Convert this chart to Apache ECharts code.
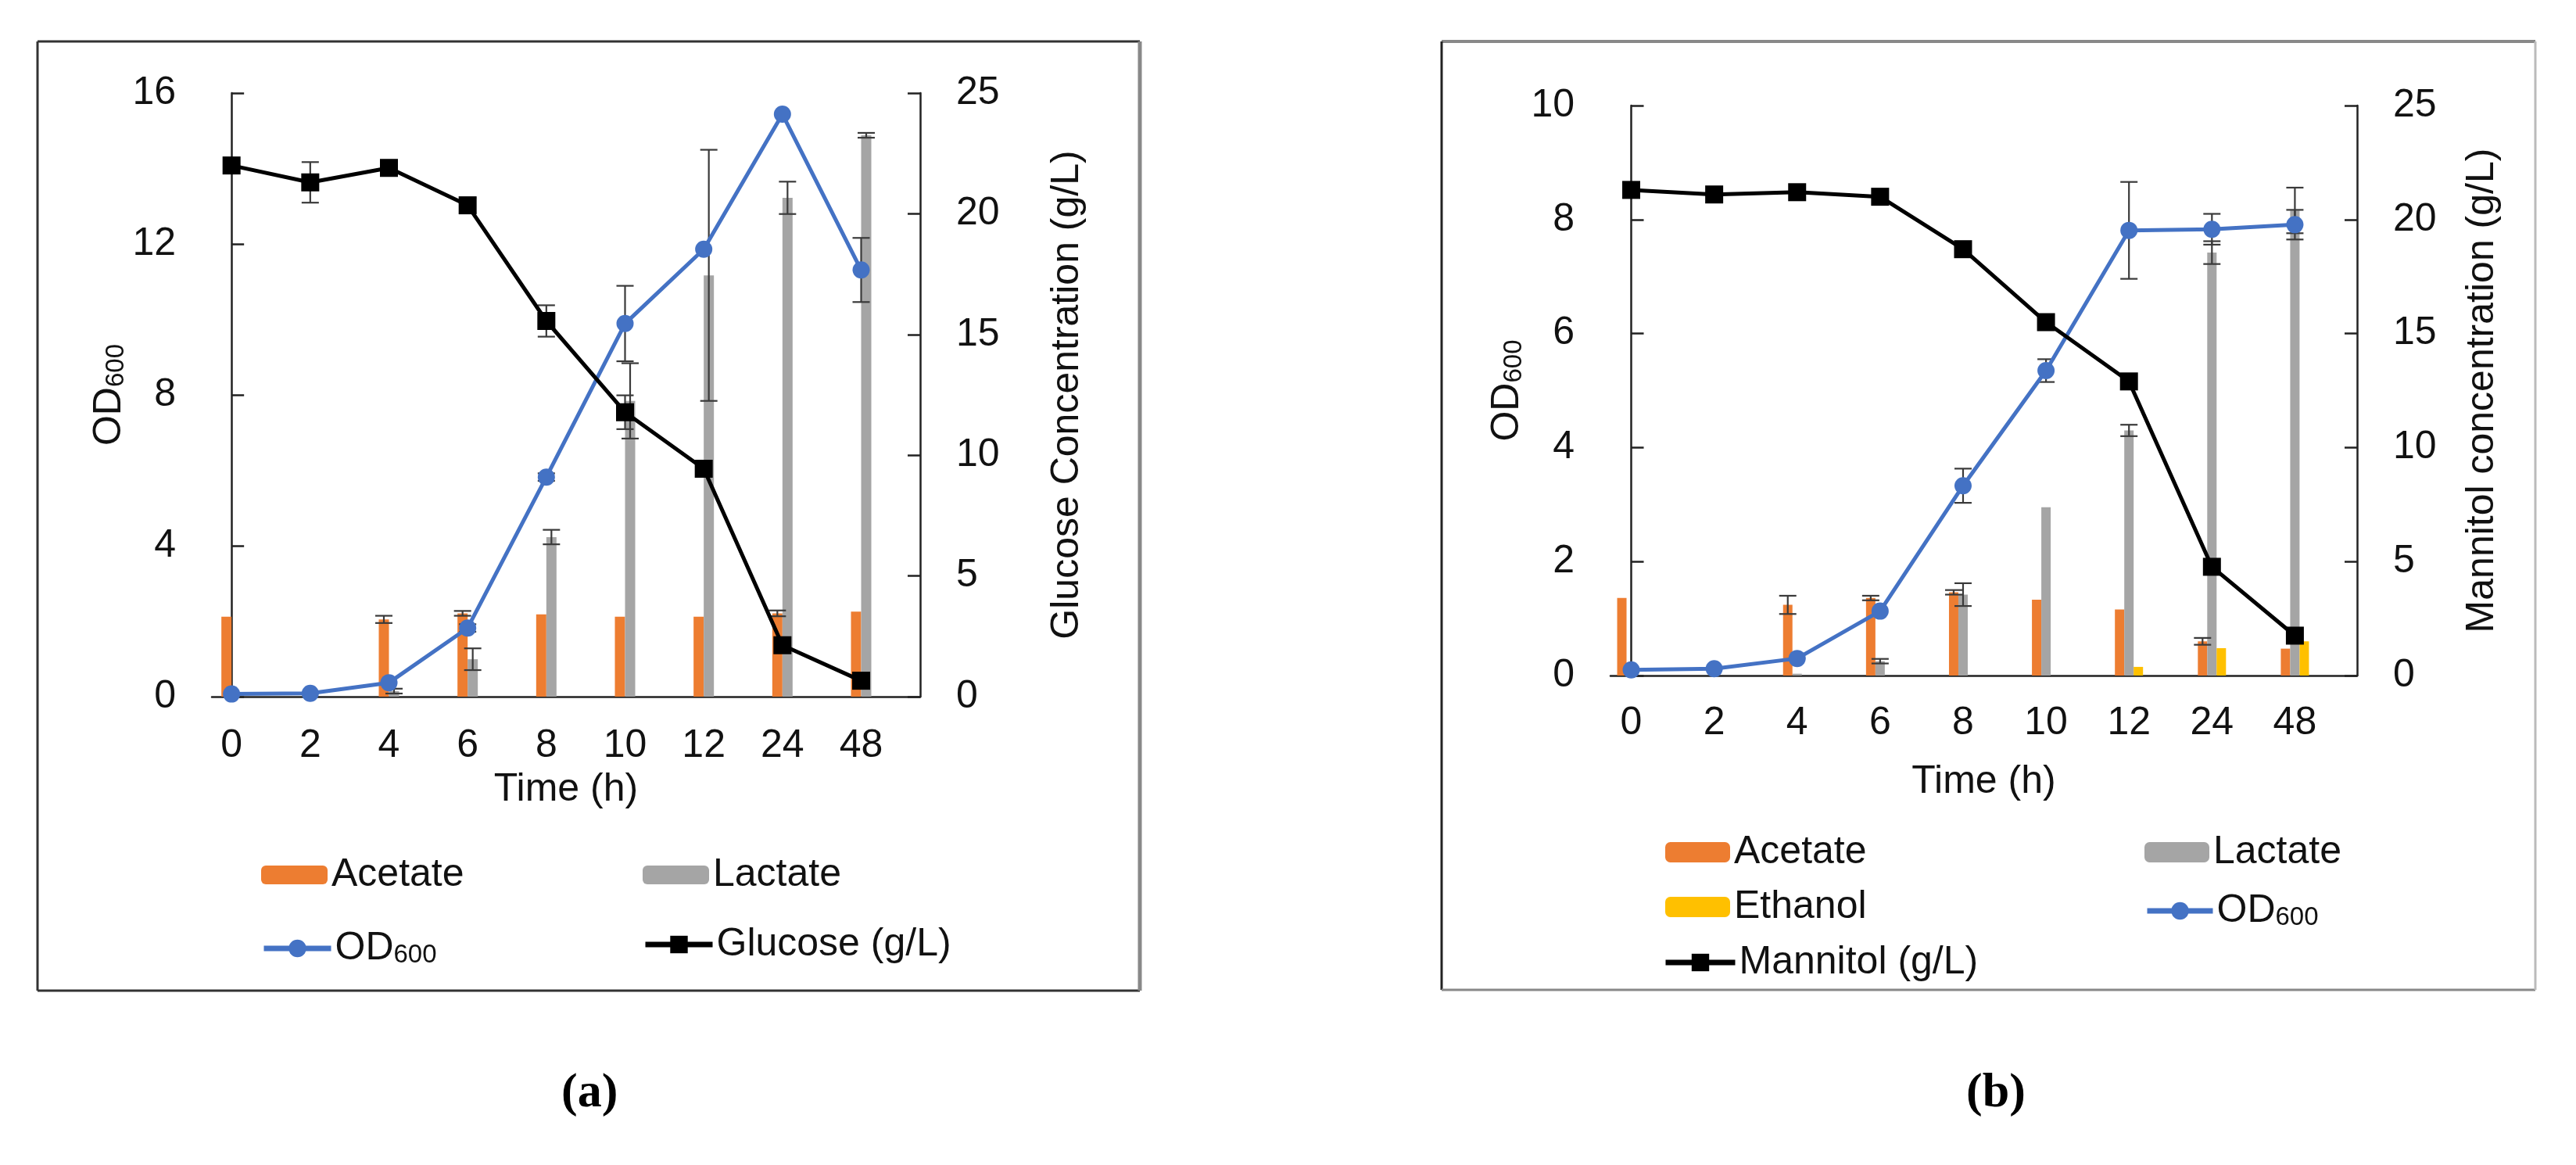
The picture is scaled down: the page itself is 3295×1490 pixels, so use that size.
<!DOCTYPE html>
<html><head><meta charset="utf-8">
<script src="https://cdn.jsdelivr.net/npm/echarts@6/dist/echarts.min.js"></script>
<style>html,body{margin:0;padding:0;background:#fff}#c{width:3295px;height:1490px}</style>
</head><body><div id="c"></div>
<script>
// ---------- data ----------
const timeLabels = ['0','2','4','6','8','10','12','24','48'];
const xIdx = timeLabels.map((_, i) => i);

// Panel (a): glucose fermentation
const aOD600      = [0.07, 0.09, 0.37, 1.82, 5.82, 9.89, 11.86, 15.44, 11.31];
const aOD600Err   = [0, 0, 0, 0.1, 0.1, 1.0, 0, 0, 0.85];
const aGlucose    = [22.0, 21.3, 21.9, 20.35, 15.56, 11.78, 9.44, 2.13, 0.66];
const aGlucoseErr = [0, 0.84, 0, 0.3, 0.65, 0.7, 0, 0, 0];
const aAcetate    = [3.31, 0, 3.2, 3.45, 3.41, 3.31, 3.31, 3.45, 3.52];
const aAcetateErr = [0, 0, 0.15, 0.1, 0, 0, 0, 0.12, 0];
const aLactate    = [0, 0, 0.23, 1.55, 6.61, 12.25, 17.45, 20.66, 23.25];
const aLactateErr = [0, 0, 0.1, 0.45, 0.3, 1.56, 5.2, 0.67, 0.1];

// Panel (b): mannitol fermentation
const bOD600       = [0.10, 0.12, 0.30, 1.13, 3.33, 5.35, 7.81, 7.83, 7.91];
const bOD600Err    = [0, 0, 0, 0, 0.3, 0.2, 0.85, 0.27, 0.26];
const bMannitol    = [21.3, 21.1, 21.2, 21.0, 18.7, 15.5, 12.9, 4.77, 1.75];
const bMannitolErr = [0, 0, 0, 0, 0, 0, 0, 0, 0];
const bAcetate     = [3.4, 0, 3.1, 3.4, 3.65, 3.33, 2.9, 1.5, 1.18];
const bAcetateErr  = [0, 0, 0.4, 0.1, 0.1, 0, 0, 0.15, 0];
const bLactate     = [0, 0, 0.08, 0.63, 3.55, 7.38, 10.75, 18.55, 20.4];
const bLactateErr  = [0, 0, 0, 0.1, 0.5, 0, 0.25, 0.5, 1.0];
const bEthanol     = [0, 0, 0, 0, 0, 0, 0.38, 1.2, 1.5];

// ---------- helpers ----------
const FONT = 'Liberation Sans, Arial, sans-serif';
const TXT = '#111';
const pts = arr => xIdx.map(i => [i, arr[i]]);
const rich = {
  m: {fontSize: 50, fontFamily: FONT, color: TXT, lineHeight: 50, verticalAlign: 'top'},
  s: {fontSize: 33, fontFamily: FONT, color: TXT, lineHeight: 33, padding: [27, 0, 0, 0], verticalAlign: 'bottom'}
};
function errSeries(xa, ya, vals, errs, dx, color) {
  return {
    type: 'custom', xAxisIndex: xa, yAxisIndex: ya, silent: true, z: 3,
    encode: {x: 0, y: 1},
    data: xIdx.filter(i => errs[i] > 0).map(i => [i, vals[i], errs[i]]),
    renderItem(params, api) {
      const x = api.value(0), v = api.value(1), e = api.value(2);
      const hi = api.coord([x, v + e]), lo = api.coord([x, Math.max(0, v - e)]);
      const px = hi[0] + dx, w = 11;
      const st = {stroke: color, lineWidth: 2.2};
      return {type: 'group', children: [
        {type: 'line', shape: {x1: px, y1: hi[1], x2: px, y2: lo[1]}, style: st},
        {type: 'line', shape: {x1: px - w, y1: hi[1], x2: px + w, y2: hi[1]}, style: st},
        {type: 'line', shape: {x1: px - w, y1: lo[1], x2: px + w, y2: lo[1]}, style: st}
      ]};
    }
  };
}
function xAxis(grid, margin, nameGap) {
  return {
    type: 'value', gridIndex: grid, min: -0.25, max: 8.75,
    axisLine: {show: true, lineStyle: {color: '#222', width: 2.5}},
    axisTick: {show: false}, splitLine: {show: false},
    axisLabel: {customValues: xIdx, formatter: v => timeLabels[Math.round(v)],
      fontSize: 50, fontFamily: FONT, color: TXT, margin: margin},
    name: 'Time (h)', nameLocation: 'middle', nameGap: nameGap,
    nameTextStyle: {fontSize: 50, fontFamily: FONT, color: TXT}
  };
}
function yAxis(grid, pos, max, interval, name, nameGap, richName) {
  return {
    type: 'value', gridIndex: grid, position: pos, min: 0, max: max, interval: interval,
    axisLine: {show: true, lineStyle: {color: '#222', width: 2.5}},
    axisTick: {show: true, inside: true, length: 16, lineStyle: {color: '#222', width: 2.5}},
    splitLine: {show: false},
    axisLabel: {fontSize: 50, fontFamily: FONT, color: TXT, margin: 46},
    name: name, nameLocation: 'middle', nameGap: nameGap, nameRotate: 90,
    nameTextStyle: richName ? {rich: rich} : {fontSize: 50, fontFamily: FONT, color: TXT}
  };
}
const C_ACE = '#ED7D31', C_LAC = '#A5A5A5', C_ETH = '#FFC000', C_OD = '#4472C4', C_SUG = '#000000';
const ERRC = '#3a3a3a';
function bar(name, xa, ya, arr, color, bw) {
  return {type: 'bar', name, xAxisIndex: xa, yAxisIndex: ya, data: pts(arr), barWidth: bw, barGap: '0%',
    itemStyle: {color}, z: 2};
}
function line(name, xa, ya, arr, color, sym, size) {
  return {type: 'line', name, xAxisIndex: xa, yAxisIndex: ya, data: pts(arr), symbol: sym, symbolSize: size,
    lineStyle: {color, width: 5}, itemStyle: {color}, z: 5};
}
// centre = vertical centre of the legend icon
function legend(name, left, centre, w, h, isLine) {
  const half = name === 'OD600' ? 30 : 25;
  const l = {data: [name], left, top: centre - half, itemWidth: w, itemHeight: h, padding: 0, selectedMode: false,
    formatter: n => n === 'OD600' ? '{m|OD}{s|600}' : n,
    textStyle: {fontSize: 50, fontFamily: FONT, color: TXT, rich: rich}};
  if (isLine) l.lineStyle = {width: 7};
  return l;
}

const option = {
  animation: false,
  backgroundColor: '#fff',
  grid: [
    {left: 271, top: 119, width: 906, height: 772},
    {left: 2060, top: 135, width: 955, height: 729}
  ],
  xAxis: [xAxis(0, 38, 94), xAxis(1, 36, 111)],
  yAxis: [
    yAxis(0, 'left', 16, 4, '{m|OD}{s|600}', 102, true),
    yAxis(0, 'right', 25, 5, 'Glucose Concentration (g/L)', 163, false),
    yAxis(1, 'left', 10, 2, '{m|OD}{s|600}', 107, true),
    yAxis(1, 'right', 25, 5, 'Mannitol concentration (g/L)', 135, false)
  ],
  legend: [
    legend('Acetate', 334, 1119, 85, 24),
    legend('Lactate', 822, 1119, 85, 24),
    legend('OD600', 334, 1208, 86, 28, true),
    legend('Glucose (g/L)', 822, 1208, 86, 28, true),
    legend('Acetate', 2130, 1090, 83, 26),
    legend('Lactate', 2743, 1090, 83, 26),
    legend('Ethanol', 2130, 1160, 83, 26),
    legend('OD600', 2743, 1160, 84, 28, true),
    legend('Mannitol (g/L)', 2127, 1231, 89, 28, true)
  ],
  series: [
    bar('Acetate', 0, 1, aAcetate, C_ACE, 13),
    bar('Lactate', 0, 1, aLactate, C_LAC, 13),
    errSeries(0, 1, aAcetate, aAcetateErr, -6.5, ERRC),
    errSeries(0, 1, aLactate, aLactateErr, 6.5, ERRC),
    line('OD600', 0, 0, aOD600, C_OD, 'circle', 22),
    line('Glucose (g/L)', 0, 1, aGlucose, C_SUG, 'rect', 23),
    errSeries(0, 0, aOD600, aOD600Err, 0, ERRC),
    errSeries(0, 1, aGlucose, aGlucoseErr, 0, ERRC),

    bar('Acetate', 1, 3, bAcetate, C_ACE, 12),
    bar('Lactate', 1, 3, bLactate, C_LAC, 12),
    bar('Ethanol', 1, 3, bEthanol, C_ETH, 12),
    errSeries(1, 3, bAcetate, bAcetateErr, -12, ERRC),
    errSeries(1, 3, bLactate, bLactateErr, 0, ERRC),
    line('OD600', 1, 2, bOD600, C_OD, 'circle', 22),
    line('Mannitol (g/L)', 1, 3, bMannitol, C_SUG, 'rect', 23),
    errSeries(1, 2, bOD600, bOD600Err, 0, ERRC),
    errSeries(1, 3, bMannitol, bMannitolErr, 0, ERRC)
  ],
  graphic: [
    {type: 'line', shape: {x1: 48, y1: 53, x2: 1458, y2: 53}, style: {stroke: '#333', lineWidth: 3}},
    {type: 'line', shape: {x1: 48, y1: 53, x2: 48, y2: 1267}, style: {stroke: '#333', lineWidth: 3}},
    {type: 'line', shape: {x1: 48, y1: 1267, x2: 1458, y2: 1267}, style: {stroke: '#333', lineWidth: 3}},
    {type: 'line', shape: {x1: 1458, y1: 53, x2: 1458, y2: 1267}, style: {stroke: '#888', lineWidth: 5}},
    {type: 'line', shape: {x1: 1844, y1: 53, x2: 3243, y2: 53}, style: {stroke: '#888', lineWidth: 4}},
    {type: 'line', shape: {x1: 1844, y1: 53, x2: 1844, y2: 1266}, style: {stroke: '#222', lineWidth: 3}},
    {type: 'line', shape: {x1: 1844, y1: 1266, x2: 3243, y2: 1266}, style: {stroke: '#888', lineWidth: 3}},
    {type: 'line', shape: {x1: 3243, y1: 53, x2: 3243, y2: 1266}, style: {stroke: '#bbb', lineWidth: 3}},
    {type: 'text', left: 718, top: 1368, style: {text: '(a)', fontSize: 62, fontWeight: 'bold', fontFamily: 'Liberation Serif, serif', fill: '#000'}},
    {type: 'text', left: 2515, top: 1368, style: {text: '(b)', fontSize: 62, fontWeight: 'bold', fontFamily: 'Liberation Serif, serif', fill: '#000'}}
  ]
};
const chart = echarts.init(document.getElementById('c'), null, {renderer: 'canvas'});
chart.setOption(option);
</script>
</body></html>
